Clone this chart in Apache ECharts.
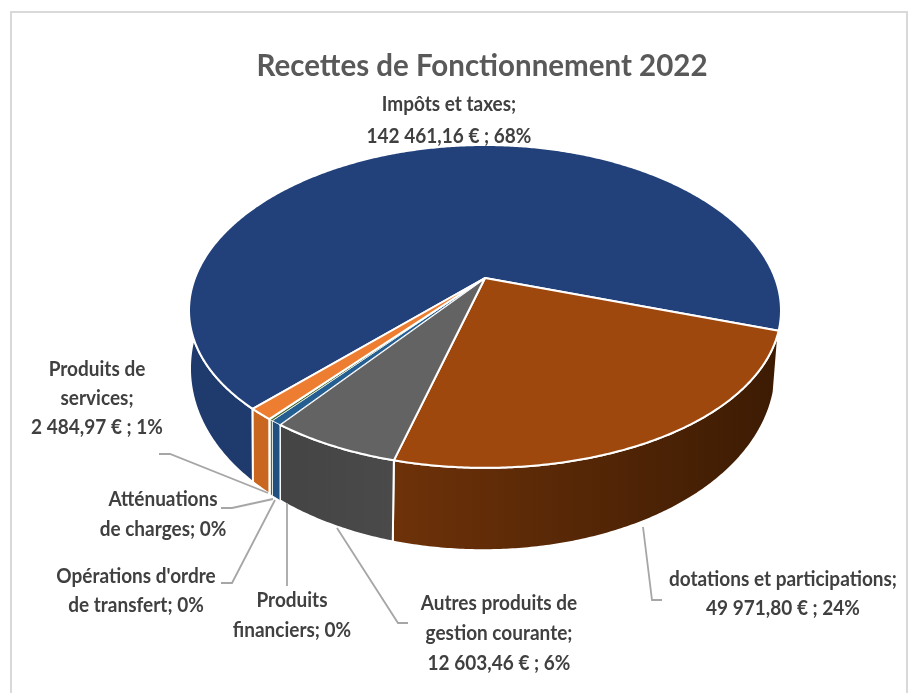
<!DOCTYPE html>
<html><head><meta charset="utf-8">
<style>html,body{margin:0;padding:0;background:#fff}#c{width:908px;height:693px}</style>
<script src="https://cdn.jsdelivr.net/npm/echarts@6/dist/echarts.min.js"></script>
</head><body><div id="c"></div>
<script>
const categories = ["Impôts et taxes","dotations et participations","Autres produits de gestion courante","Produits financiers","Opérations d'ordre de transfert","Atténuations de charges","Produits de services"];
const values = [142461.16,49971.80,12603.46,1040,300,120,2484.97];
const topColors = ["#22407a","#9e480e","#636363","#255e91","#43682b","#70ad47","#ed7d31"];
const wallLeft = ["#1f3b6e","#6e3209","#444444","#1f5080","#38591f","#5f9a3c","#c9661f"];
const wallRight = ["#1c3560","#3c1b03","#4a4a4a","#1f5080","#38591f","#5f9a3c","#c9661f"];
const labelLines = [
 ["Impôts et taxes;","142 461,16 € ; 68%"],
 ["dotations et participations;","49 971,80 € ; 24%"],
 ["Autres produits de","gestion courante;","12 603,46 € ; 6%"],
 ["Produits","financiers; 0%"],
 ["Opérations d'ordre","de transfert; 0%"],
 ["Atténuations","de charges; 0%"],
 ["Produits de","services;","2 484,97 € ; 1%"]
];
// layout of labels: centre x, first line y, line step
const labelPos = [[449,105,32],[783,580,29],[499,604,30],[292,601,30],[136,577,29],[163,500,30],[97,370,29]];
const leaders = [
 [[159,454],[170,454],[268,493]],
 [[221,508],[232,508],[273,499]],
 [[221,583],[232,583],[275,500]],
 [[287,503],[287,586]],
 [[337,528],[398,623],[408,623]],
 [[643,527],[652,600],[662,600]]
];
// projection of the tilted disc
const AX=485, AY=278, A=290, B=156.4, K=0.176, KX=0.2, END_FIRST=18.6;
const total = values.reduce((a,b)=>a+b,0);
function rimTop(t){const u=Math.cos(t),v=Math.sin(t);return [AX+A*u/(1-KX*v),AY+B*v/(1-K*v)];}
function rimBottom(t){const p=rimTop(t);return [AX+(p[0]-AX)*0.99-2,p[1]+53+0.155*(p[1]-AY)];}
const D2R=Math.PI/180;
const spans=[];
{let s=END_FIRST*D2R-values[0]/total*2*Math.PI;
 values.forEach(v=>{const e=s+v/total*2*Math.PI;spans.push([s,e]);s=e;});}
function arc(f,s,e){const n=Math.max(2,Math.ceil((e-s)/(0.5*D2R)));const r=[];for(let i=0;i<=n;i++)r.push(f(s+(e-s)*i/n));return r;}

const chart=echarts.init(document.getElementById('c'),null,{renderer:'canvas'});
const dataRows=values.map((v,i)=>({name:categories[i],value:[v,i]}));
function grad(i,pts){const xs=pts.map(p=>p[0]);const x0=Math.min(...xs),x1=Math.max(...xs);
 return new echarts.graphic.LinearGradient(x0,0,Math.max(x1,x0+1),0,[{offset:0,color:wallLeft[i]},{offset:1,color:wallRight[i]}],true);}
const strokeW=i=>(values[i]/total<0.006?0.8:2);
const option={
 animation:false,backgroundColor:'#fff',
 title:{text:"Recettes de Fonctionnement 2022",left:477,top:46,textAlign:'center',
  textStyle:{fontFamily:'Lato',fontSize:29.5,fontWeight:'bold',color:'#595959'}},
 series:[
  {type:'custom',coordinateSystem:'none',silent:true,z:1,data:dataRows,
   renderItem(p,api){const i=api.value(1),[s,e]=spans[i];
    const a=arc(rimTop,s,e),b=arc(rimBottom,s,e).reverse(),pts=a.concat(b);
    return {type:'polygon',shape:{points:pts},style:{fill:grad(i,pts),stroke:'#fff',lineWidth:strokeW(i)}};}},
  {type:'custom',coordinateSystem:'none',silent:true,z:2,data:dataRows,
   renderItem(p,api){const i=api.value(1),[s,e]=spans[i];
    const pts=[[AX,AY]].concat(arc(rimTop,s,e));
    return {type:'polygon',shape:{points:pts},style:{fill:topColors[i],stroke:'#fff',lineWidth:strokeW(i),lineJoin:'round'}};}}
 ],
 graphic:{elements:[
  {type:'rect',z:0,shape:{x:11,y:12,width:896,height:700},style:{fill:'#fff',stroke:'#d9d9d9',lineWidth:2}},
  ...leaders.map(l=>({type:'polyline',z:3,shape:{points:l},style:{fill:null,stroke:'#a6a6a6',lineWidth:1.8}})),
  ...labelLines.flatMap((ls,i)=>ls.map((t,j)=>({type:'text',z:4,x:labelPos[i][0],y:labelPos[i][1]+j*labelPos[i][2],scaleX:0.95,
     style:{text:t,fontFamily:'Lato',fontSize:20,fontWeight:'bold',fill:'#404040',align:'center',verticalAlign:'middle'}})))
 ]}
};
chart.setOption(option);
</script></body></html>
